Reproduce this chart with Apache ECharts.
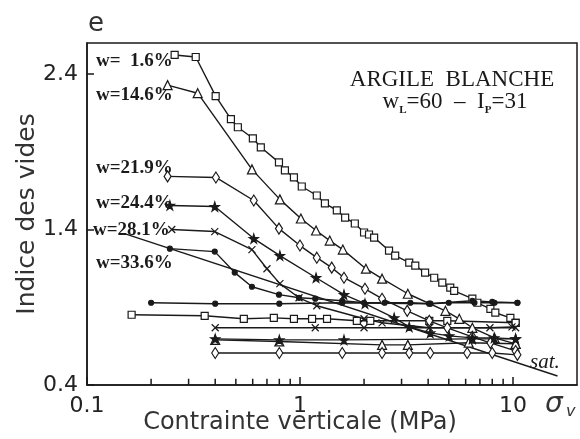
<!DOCTYPE html>
<html>
<head>
<meta charset="utf-8">
<script src="https://cdn.jsdelivr.net/npm/echarts@6/dist/echarts.min.js"></script>
<style>
  html, body { margin: 0; padding: 0; background: #fff; }
  #chart { width: 580px; height: 439px; }
</style>
</head>
<body>
<div id="chart"></div>
<script>
// tick labels
const yLabelVals = [0.4, 1.4, 2.4];
const xMinorTicks = [0.2, 0.3, 0.4, 0.5, 0.6, 0.7, 0.8, 0.9, 2, 3, 4, 5, 6, 7, 8, 9];

// w = 1.6 %  (squares)
const sig16L = [0.258, 0.324, 0.402, 0.474, 0.511, 0.601, 0.655, 0.797, 0.85, 0.937, 1.02, 1.2, 1.31, 1.49, 1.63, 1.81, 2.0, 2.11, 2.23, 2.62, 2.8, 3.26, 3.48, 3.87, 4.27, 4.66, 5.08, 5.3, 6.45, 6.81, 7.84, 8.27, 9.73, 10.3];
const e16L = [2.523, 2.51, 2.258, 2.11, 2.058, 1.987, 1.929, 1.832, 1.781, 1.735, 1.677, 1.619, 1.568, 1.523, 1.477, 1.439, 1.381, 1.368, 1.348, 1.265, 1.232, 1.187, 1.168, 1.123, 1.09, 1.058, 1.026, 1.006, 0.955, 0.929, 0.89, 0.865, 0.832, 0.8];
const sig16U = [10.3, 4.92, 4.05, 2.14, 1.85, 1.34, 1.14, 0.937, 0.754, 0.545, 0.357, 0.162];
const e16U = [0.8, 0.813, 0.813, 0.813, 0.813, 0.826, 0.826, 0.826, 0.832, 0.826, 0.845, 0.852];

// w = 14.6 %  (triangles)
const sig146L = [0.239, 0.331, 0.595, 0.805, 1.01, 1.19, 1.38, 1.59, 2.04, 2.43, 3.21, 4.82, 5.6, 6.45, 8.2, 10.3];
const e146L = [2.329, 2.277, 1.787, 1.594, 1.471, 1.394, 1.329, 1.271, 1.148, 1.084, 0.987, 0.877, 0.826, 0.768, 0.703, 0.665];
const sig146U = [10.3, 6.2, 3.21, 2.43, 0.8, 0.4];
const e146U = [0.665, 0.672, 0.658, 0.658, 0.68, 0.69];

// w = 21.9 %  (diamonds)
const sig219L = [0.239, 0.403, 0.607, 0.797, 1.0, 1.2, 1.41, 1.61, 2.02, 2.43, 3.19, 4.05, 4.92, 6.45, 7.84, 10.3];
const e219L = [1.742, 1.735, 1.587, 1.406, 1.297, 1.219, 1.155, 1.09, 1.019, 0.955, 0.877, 0.813, 0.768, 0.71, 0.671, 0.619];
const sig219U = [10.5, 8.0, 6.1, 4.09, 3.26, 2.43, 1.58, 0.8, 0.4];
const e219U = [0.594, 0.606, 0.606, 0.606, 0.606, 0.606, 0.606, 0.606, 0.606];

// w = 24.4 %  (stars)
const sig244L = [0.245, 0.398, 0.607, 0.805, 1.19, 1.61, 2.02, 2.77, 3.26, 4.09, 5.02, 6.45, 8.17, 10.3];
const e244L = [1.555, 1.548, 1.342, 1.232, 1.09, 0.981, 0.923, 0.832, 0.774, 0.735, 0.716, 0.703, 0.703, 0.697];
const sig244U = [10.3, 6.45, 1.61, 0.8, 0.4];
const e244U = [0.697, 0.697, 0.69, 0.69, 0.697];

// w = 28.1 %  (crosses)
const sig281L = [0.25, 0.398, 0.595, 0.7, 0.805, 0.99, 1.2, 2.0, 2.43, 4.05, 10.3];
const e281L = [1.4, 1.387, 1.271, 1.148, 1.052, 0.961, 0.91, 0.826, 0.8, 0.768, 0.768];
const sig281U = [9.9, 7.8, 2.0, 1.18, 0.4];
const e281U = [0.774, 0.768, 0.768, 0.768, 0.768];

// w = 33.6 %  (dots)
const sig336L = [0.245, 0.398, 0.494, 0.595, 0.797, 0.99, 1.18, 1.58, 2.0, 2.5, 3.3, 4.1, 5.0, 6.6, 8.2, 10.5];
const e336L = [1.277, 1.258, 1.123, 1.032, 0.981, 0.961, 0.955, 0.942, 0.929, 0.929, 0.929, 0.923, 0.929, 0.929, 0.929, 0.929];
const sig336U = [10.5, 8.0, 6.45, 4.04, 1.58, 0.8, 0.4, 0.2];
const e336U = [0.929, 0.935, 0.942, 0.923, 0.929, 0.923, 0.923, 0.929];

// saturation line
const satSig = [0.15, 16.2];
const satE = [1.374, 0.458];

const INK = '#1a1a1a';
const STAR = 'path://M50,0 L61,35 L98,35 L68,57 L79,91 L50,70 L21,91 L32,57 L2,35 L39,35 Z';
const CROSS = 'path://M0,0 L10,10 M10,0 L0,10';

function zip(xs, ys) {
    return xs.map((x, i) => [x, ys[i]]);
}

function curve(xs, ys, symbol, size, hollow) {
    return {
        type: 'line',
        data: zip(xs, ys),
        symbol: symbol,
        symbolSize: size,
        showAllSymbol: true,
        silent: true,
        lineStyle: { color: INK, width: 1.4 },
        itemStyle: { color: hollow ? '#fff' : INK, borderColor: INK, borderWidth: 1.2 }
    };
}

function note(x, y, text) {
    return { type: 'text', x: x, y: y, style: { text: text, font: 'bold 19px "Liberation Serif"', fill: INK, align: 'left', verticalAlign: 'middle' } };
}

let myChart = echarts.init(document.getElementById('chart'));

myChart.setOption({
    animation: false,
    backgroundColor: '#fff',
    grid: {
        left: 87, right: 3, top: 43, bottom: 54,
        show: true, borderColor: INK, borderWidth: 1.5,
        outerBoundsMode: 'none'
    },
    xAxis: {
        type: 'log',
        logBase: 10,
        min: 0.1,
        max: 20,
        axisLine: { show: true, lineStyle: { color: INK, width: 1.5 } },
        axisTick: { show: true, inside: true, length: 8, lineStyle: { color: INK, width: 1.5 } },
        axisLabel: {
            fontSize: 22, color: '#222', fontFamily: 'DejaVu Sans', margin: 10,
            showMaxLabel: false,
            formatter: function (v) { return String(+v.toPrecision(3)); }
        },
        splitLine: { show: false }
    },
    yAxis: {
        type: 'value',
        min: 0.4,
        max: 2.6,
        axisLine: { show: true, lineStyle: { color: INK, width: 1.5 } },
        axisTick: { show: true, inside: true, length: 7, customValues: yLabelVals, lineStyle: { color: INK, width: 1.5 } },
        axisLabel: {
            customValues: yLabelVals,
            fontSize: 22, color: '#222', fontFamily: 'DejaVu Sans', margin: 9,
            formatter: function (v) { return v.toFixed(1); }
        },
        splitLine: { show: false }
    },
    graphic: [
        { type: 'text', x: 88, y: 24, style: { text: 'e', font: '26px "DejaVu Sans"', fill: '#333', align: 'left', verticalAlign: 'middle' } },
        { type: 'text', x: 27, y: 214, rotation: Math.PI / 2, style: { text: 'Indice des vides', font: '25px "DejaVu Sans"', fill: '#333', align: 'center', verticalAlign: 'middle' } },
        { type: 'text', x: 300, y: 423, style: { text: 'Contrainte verticale (MPa)', font: '24px "DejaVu Sans"', fill: '#333', align: 'center', verticalAlign: 'middle' } },
        { type: 'text', x: 545, y: 405, style: { text: 'σ', font: 'italic 28px "DejaVu Sans"', fill: '#333', align: 'left', verticalAlign: 'middle' } },
        { type: 'text', x: 566, y: 412, style: { text: 'v', font: 'italic 16px "DejaVu Sans"', fill: '#333', align: 'left', verticalAlign: 'middle' } },
        { type: 'text', x: 452, y: 80, style: { text: 'ARGILE  BLANCHE', font: '23px "Liberation Serif"', fill: INK, align: 'center', verticalAlign: 'middle' } },
        {
            type: 'text', x: 455, y: 101,
            style: {
                text: '{a|w}{s|L}{a|=60  –  I}{s|P}{a|=31}',
                fill: INK, align: 'center', verticalAlign: 'middle',
                rich: {
                    a: { font: '23px "Liberation Serif"', fill: INK, lineHeight: 24, verticalAlign: 'bottom' },
                    s: { font: 'bold 11px "Liberation Serif"', fill: INK, lineHeight: 24, verticalAlign: 'bottom', padding: [0, 0, -3, 0] }
                }
            }
        },
        note(96, 61, 'w=  1.6%'),
        note(96, 95, 'w=14.6%'),
        note(96, 168, 'w=21.9%'),
        note(96, 203, 'w=24.4%'),
        note(93, 230, 'w=28.1%'),
        note(96, 263, 'w=33.6%'),
        { type: 'text', x: 530, y: 362, style: { text: 'sat.', font: 'italic 21px "Liberation Serif"', fill: INK, align: 'left', verticalAlign: 'middle' } }
    ],
    series: [
        curve(satSig, satE, 'none', 0, false),
        curve(sig16L, e16L, 'rect', 7, true),
        curve(sig16U, e16U, 'rect', 7, true),
        curve(sig146L, e146L, 'triangle', 9, true),
        curve(sig146U, e146U, 'triangle', 9, true),
        curve(sig219L, e219L, 'diamond', [7, 11], true),
        curve(sig219U, e219U, 'diamond', [7, 11], true),
        curve(sig244L, e244L, STAR, 9, false),
        curve(sig244U, e244U, STAR, 9, false),
        curve(sig281L, e281L, CROSS, 7, false),
        curve(sig281U, e281U, CROSS, 7, false),
        curve(sig336L, e336L, 'circle', 5, false),
        curve(sig336U, e336U, 'circle', 5, false),
        {
            // minor ticks of the log axis, short segments standing on the axis
            type: 'line',
            silent: true,
            symbol: 'none',
            connectNulls: false,
            lineStyle: { color: INK, width: 1.5 },
            data: xMinorTicks.flatMap(v => [[v, 0.4], [v, 0.44], [null, null]])
        }
    ]
});
</script>
</body>
</html>
